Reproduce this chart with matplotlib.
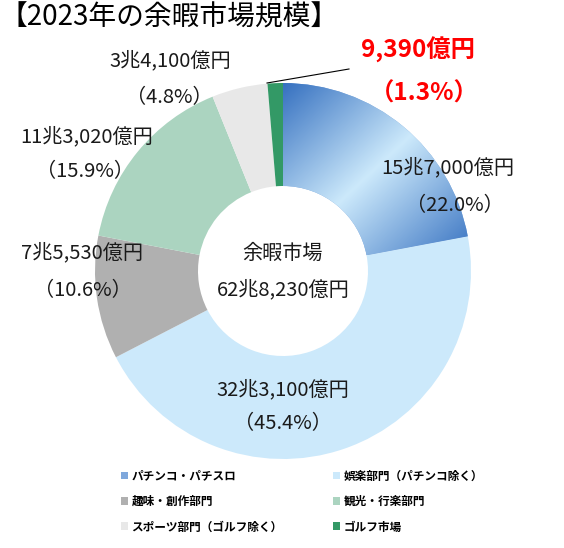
import numpy as np
import matplotlib
matplotlib.use("Agg")
import matplotlib.pyplot as plt
from matplotlib.patches import Patch
from matplotlib.lines import Line2D
from matplotlib.colors import LinearSegmentedColormap

plt.rcParams['font.family'] = ['Noto Sans CJK JP', 'DejaVu Sans']

# ---- data ----
categories = ["パチンコ・パチスロ", "娯楽部門（パチンコ除く）", "趣味・創作部門",
              "観光・行楽部門", "スポーツ部門（ゴルフ除く）", "ゴルフ市場"]
values = [15.70, 32.31, 7.553, 11.302, 3.41, 0.939]   # 兆円
amount_labels = ["15兆7,000億円", "32兆3,100億円", "7兆5,530億円",
                 "11兆3,020億円", "3兆4,100億円", "9,390億円"]
pct_labels = ["（22.0%）", "（45.4%）", "（10.6%）", "（15.9%）", "（4.8%）", "（1.3%）"]
colors = ["#7fa8dc", "#cce9fb", "#b0b0b0", "#abd4c0", "#e8e8e8", "#339966"]
title = "【2023年の余暇市場規模】"
center_lines = ["余暇市場", "62兆8,230億円"]

W, H = 564, 548
fig = plt.figure(figsize=(W / 100, H / 100), dpi=100)

cx, cy, R = 283, 271, 188
ax = fig.add_axes([(cx - R) / W, 1 - (cy + R) / H, 2 * R / W, 2 * R / H])
ax.set_aspect('equal')
ax.axis('off')

wedges, _ = ax.pie(values, colors=colors, startangle=90, counterclock=False,
                   radius=1, wedgeprops=dict(width=1 - 85 / 188, linewidth=0),
                   frame=False)

# gradient fill for first wedge
w0 = wedges[0]
ext = w0.get_path().get_extents(w0.get_patch_transform())
x0, y0, x1, y1 = ext.x0, ext.y0, ext.x1, ext.y1
n = 300
u = np.linspace(0, 1, n)[None, :]
v = np.linspace(0, 1, n)[:, None]
t = (u + v) / 2.0
cmap = LinearSegmentedColormap.from_list("g", ["#3570c0", "#cce9fb", "#3a74c2"])
im = ax.imshow(t, cmap=cmap, extent=[x0, x1, y0, y1], origin='upper',
               vmin=0, vmax=1, zorder=w0.get_zorder() + 0.1, aspect='auto')
im.set_clip_path(w0)
ax.set_xlim(-1, 1)
ax.set_ylim(-1, 1)


def ftxt(x, y, s, **kw):
    fig.text(x / W, 1 - y / H, s, ha='center', va='center', **kw)


# title
fig.text(0 / W, 1 - 18 / H, title, ha='left', va='center', fontsize=20)

# labels
lab_pos = [((448, 168), (455, 206)),
           ((283, 390), (283, 424)),
           ((82, 253), (83, 291)),
           ((87, 137), (85, 172)),
           ((170, 61), (169, 98)),
           ((418, 50), (424, 94))]
for i, (p1, p2) in enumerate(lab_pos):
    if i == 5:
        ftxt(*p1, amount_labels[i], fontsize=17.5, color='#ff0000', fontweight='bold')
        ftxt(*p2, pct_labels[i], fontsize=17.5, color='#ff0000', fontweight='bold')
    else:
        ftxt(*p1, amount_labels[i], fontsize=14.5, color='#1a1a1a')
        ftxt(*p2, pct_labels[i], fontsize=14.5, color='#1a1a1a')

ftxt(283, 253, center_lines[0], fontsize=14.5, color='#1a1a1a')
ftxt(283, 290, center_lines[1], fontsize=14.5, color='#1a1a1a')

# leader line for golf
fig.add_artist(Line2D([267 / W, 349 / W], [1 - 83 / H, 1 - 69 / H],
                      transform=fig.transFigure, color='black', linewidth=0.8))

# legend
handles = [Patch(facecolor=c, edgecolor='none') for c in colors]
order = [0, 2, 4, 1, 3, 5]
leg = fig.legend([handles[i] for i in order], [categories[i] for i in order],
                 ncol=2, loc='upper left', bbox_to_anchor=(117 / W, 1 - 466 / H),
                 frameon=False, handlelength=0.65, handleheight=0.65,
                 handletextpad=0.3, columnspacing=4.3, labelspacing=1.07,
                 borderaxespad=0, borderpad=0.3,
                 prop=dict(size=8.4, weight='bold'))

fig.savefig("out.png", dpi=100)
